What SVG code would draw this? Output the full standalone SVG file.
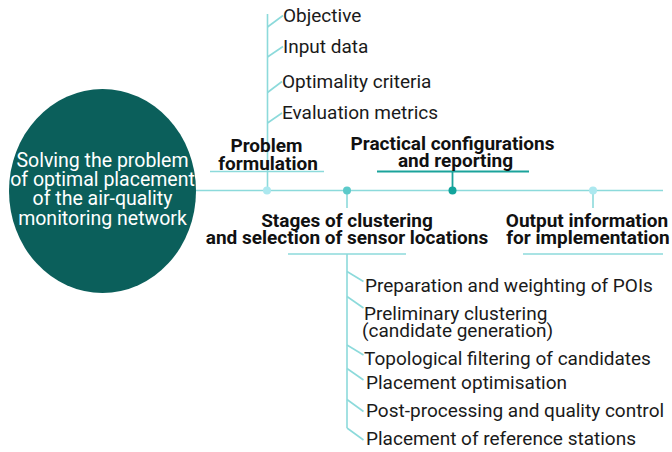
<svg xmlns="http://www.w3.org/2000/svg" width="672" height="452" viewBox="0 0 672 452">
<style>
.ln{stroke:#8cdadb;stroke-width:1.6;fill:none}
.dk{stroke:#1ba39b;stroke-width:1.8;fill:none}
.t{font-family:Roboto,"Liberation Sans",sans-serif;font-size:19px;fill:#1a1a1a}
.b{font-family:Roboto,"Liberation Sans",sans-serif;font-size:19px;font-weight:700;fill:#111;text-anchor:middle}
.c{font-family:Roboto,"Liberation Sans",sans-serif;font-size:19.5px;fill:#fff;text-anchor:middle}
</style>
<rect width="672" height="452" fill="#fff"/>
<g id="connectors">
<line class="ln" x1="196" y1="190.5" x2="663" y2="190.5"/>
<line class="ln" x1="267.5" y1="190" x2="267.5" y2="14"/>
<polyline class="ln" points="267.5,27 283,15.5"/>
<polyline class="ln" points="267.5,57 283,46.5"/>
<polyline class="ln" points="267.5,92.5 282,81.5"/>
<polyline class="ln" points="267.5,123 282,113"/>
<line class="ln" x1="210" y1="171.5" x2="324" y2="171.5"/>
<line class="dk" x1="377" y1="171.5" x2="529" y2="171.5"/>
<line class="dk" x1="452.5" y1="171.5" x2="452.5" y2="190"/>
<line class="ln" x1="347" y1="190" x2="347" y2="208"/>
<line class="ln" x1="593" y1="190" x2="593" y2="208"/>
<line class="ln" x1="288" y1="254" x2="406" y2="254"/>
<line class="ln" x1="523" y1="254" x2="663" y2="254"/>
<line class="ln" x1="347" y1="254" x2="347" y2="428"/>
<polyline class="ln" points="347,271.5 363.5,281.5"/>
<polyline class="ln" points="347,296.5 363.5,308"/>
<polyline class="ln" points="347,345 363.5,355"/>
<polyline class="ln" points="347,368.5 363.5,380"/>
<polyline class="ln" points="347,399.5 363.5,411.5"/>
<polyline class="ln" points="347,428 363.5,440"/>
<circle cx="267" cy="190.5" r="4" fill="#ace8ef"/>
<circle cx="347" cy="190.5" r="4" fill="#5ccaca"/>
<circle cx="452.5" cy="190.5" r="4" fill="#12a49c"/>
<circle cx="593" cy="190.5" r="4" fill="#ace8ef"/>
</g>
<g id="root">
<ellipse cx="102.5" cy="191" rx="93.5" ry="102" fill="#0b5f5b"/>
<text class="c" x="102.5" y="167">Solving the problem</text>
<text class="c" x="102.5" y="186">of optimal placement</text>
<text class="c" x="102.5" y="205">of the air-quality</text>
<text class="c" x="102.5" y="225">monitoring network</text>
</g>
<g id="problem-formulation">
<text class="b" x="266.5" y="152">Problem</text>
<text class="b" x="268" y="170">formulation</text>
</g>
<g id="objective"><text class="t" x="283" y="22">Objective</text></g>
<g id="input-data"><text class="t" x="283" y="53">Input data</text></g>
<g id="optimality-criteria"><text class="t" x="282" y="87.5">Optimality criteria</text></g>
<g id="evaluation-metrics"><text class="t" x="282" y="119">Evaluation metrics</text></g>
<g id="practical">
<text class="b" x="452.5" y="150">Practical configurations</text>
<text class="b" x="455.5" y="167">and reporting</text>
</g>
<g id="stages">
<text class="b" x="347" y="227">Stages of clustering</text>
<text class="b" x="347" y="244">and selection of sensor locations</text>
</g>
<g id="output">
<text class="b" x="587" y="227">Output information</text>
<text class="b" x="588" y="244">for implementation</text>
</g>
<g id="step1"><text class="t" x="365" y="292">Preparation and weighting of POIs</text></g>
<g id="step2"><text class="t" x="364" y="320">Preliminary clustering</text><text class="t" x="362" y="337">(candidate generation)</text></g>
<g id="step3"><text class="t" x="364" y="365">Topological filtering of candidates</text></g>
<g id="step4"><text class="t" x="366" y="388.5">Placement optimisation</text></g>
<g id="step5"><text class="t" x="366" y="416.5">Post-processing and quality control</text></g>
<g id="step6"><text class="t" x="366" y="445">Placement of reference stations</text></g>
</svg>
